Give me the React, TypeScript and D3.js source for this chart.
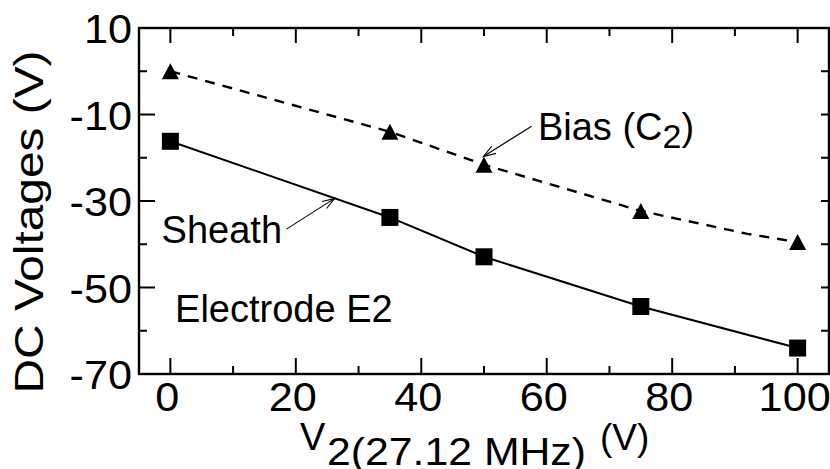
import React from "react";
import * as d3 from "d3";

const xValues = [0, 35, 50, 75, 100];
const sheathValues = [-16.2, -33.8, -42.9, -54.4, -64.0];
const biasValues = [0, -14, -21.6, -32.3, -39.5];
// dashed bias curve (drawn through the markers with a bend near 92 V)
const biasLineX = [0, 35, 50, 75, 92, 100];
const biasLineY = [0, -14, -21.6, -32.3, -37.6, -39.5];

const xTicks = [0, 20, 40, 60, 80, 100];
const xMinor = [10, 30, 50, 70, 90];
const yTicks = [10, -10, -30, -50, -70];
const yMinor = [0, -20, -40, -60];
const yRight = [0, -10, -20, -30, -40, -50, -60];

const W = 830;
const H = 469;
const L = 139, R = 829, T = 28, B = 374;
const FONT = "'Liberation Sans', Arial, Helvetica, sans-serif";

export default function App() {
  const x = d3.scaleLinear().domain([-5, 105]).range([L, R]);
  const y = d3.scaleLinear().domain([-70, 10]).range([B, T]);

  const line = d3.line<[number, number]>().x(d => x(d[0])).y(d => y(d[1]));
  const sheathPts: [number, number][] = xValues.map((v, i) => [v, sheathValues[i]]);
  const biasPts: [number, number][] = biasLineX.map((v, i) => [v, biasLineY[i]]);

  const arrow = (x1: number, y1: number, x2: number, y2: number) => {
    const px1 = x(x1), py1 = y(y1), px2 = x(x2), py2 = y(y2);
    const ang = Math.atan2(py1 - py2, px1 - px2);
    const len = 13, spread = 0.32;
    const a1 = [px2 + len * Math.cos(ang + spread), py2 + len * Math.sin(ang + spread)];
    const a2 = [px2 + len * Math.cos(ang - spread), py2 + len * Math.sin(ang - spread)];
    return (
      <g stroke="#000" strokeWidth={1.1} fill="none">
        <line x1={px1} y1={py1} x2={px2} y2={py2} />
        <polyline points={`${a1[0]},${a1[1]} ${px2},${py2} ${a2[0]},${a2[1]}`} />
      </g>
    );
  };

  const sq = 17;
  const tri = (cx: number, cy: number) => {
    const w = 17, h = 16;
    return `${cx},${cy - h / 2} ${cx + w / 2},${cy + h / 2} ${cx - w / 2},${cy + h / 2}`;
  };

  return (
    <svg width={W} height={H} style={{ position: "absolute", left: 0, top: 0, background: "#fff" }} fontFamily={FONT}>
      <rect x={0} y={0} width={W} height={H} fill="#fff" />
      {/* ticks */}
      <g stroke="#000" strokeWidth={2}>
        {xTicks.map(t => (
          <g key={"xt" + t}>
            <line x1={x(t)} x2={x(t)} y1={B} y2={B - 16} />
            <line x1={x(t)} x2={x(t)} y1={T} y2={T + 15} />
          </g>
        ))}
        {xMinor.map(t => (
          <g key={"xm" + t}>
            <line x1={x(t)} x2={x(t)} y1={B} y2={B - 8} />
            <line x1={x(t)} x2={x(t)} y1={T} y2={T + 8} />
          </g>
        ))}
        {yTicks.map(t => (
          <line key={"yt" + t} x1={L} x2={L + 16} y1={y(t)} y2={y(t)} />
        ))}
        {yMinor.map(t => (
          <line key={"ym" + t} x1={L} x2={L + 8} y1={y(t)} y2={y(t)} />
        ))}
        {yRight.map(t => (
          <line key={"yr" + t} x1={R} x2={R - 8} y1={y(t)} y2={y(t)} />
        ))}
      </g>
      <rect x={L} y={T} width={R - L} height={B - T} fill="none" stroke="#000" strokeWidth={2.4} />

      {/* lines */}
      <path d={line(biasPts) || ""} fill="none" stroke="#000" strokeWidth={2.4} strokeDasharray="10,8" />
      <path d={line(sheathPts) || ""} fill="none" stroke="#000" strokeWidth={2} />

      {/* markers */}
      {xValues.map((v, i) => (
        <rect key={"s" + v} x={x(v) - sq / 2} y={y(sheathValues[i]) - sq / 2} width={sq} height={sq} fill="#000" />
      ))}
      {xValues.map((v, i) => (
        <polygon key={"b" + v} points={tri(x(v), y(biasValues[i]))} fill="#000" />
      ))}

      {/* annotations */}
      {arrow(57.6, -12.7, 49.9, -19.7)}
      {arrow(18.5, -36.5, 26.2, -29.4)}
      <text x={x(-1.4)} y={y(-39.7)} fontSize={38}>Sheath</text>
      <text x={x(0.75)} y={y(-57.9)} fontSize={38}>Electrode E2</text>
      <text x={x(58.6)} y={y(-15.9)} fontSize={38}>
        Bias (C<tspan fontSize={34} dy={8}>2</tspan><tspan dy={-8}>)</tspan>
      </text>

      {/* tick labels */}
      {yTicks.map(t => (
        <text key={"yl" + t} transform={`translate(${L - 7},${y(t) + 15}) scale(1.08,1)`} textAnchor="end" fontSize={40}>
          {t}
        </text>
      ))}
      {xTicks.map(t => (
        <text key={"xl" + t} transform={`translate(${x(t) - 3},${B + 37}) scale(1.08,1)`} textAnchor="middle" fontSize={40}>
          {t}
        </text>
      ))}

      {/* axis titles */}
      <text x={300} y={450} fontSize={38}>V</text>
      <text x={327} y={465} fontSize={38} textLength={259} lengthAdjust="spacingAndGlyphs">2(27.12 MHz)</text>
      <text x={600} y={450} fontSize={37}>(V)</text>
      <text transform={`translate(43,222) rotate(-90)`} textAnchor="middle" fontSize={41} textLength={343} lengthAdjust="spacingAndGlyphs">
        DC Voltages (V)
      </text>
    </svg>
  );
}
